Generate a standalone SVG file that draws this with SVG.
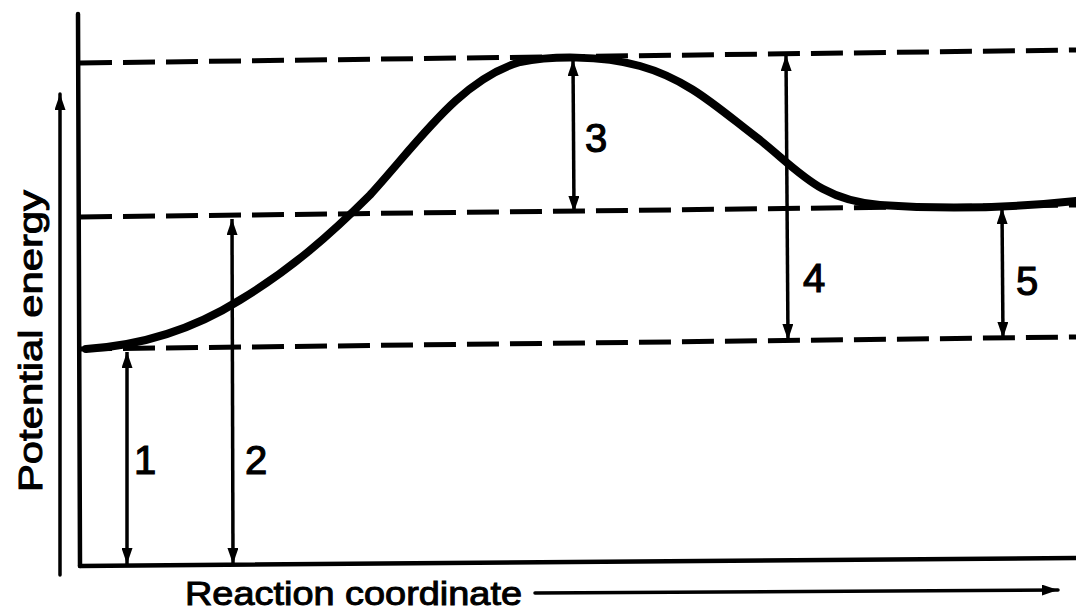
<svg xmlns="http://www.w3.org/2000/svg" width="1076" height="614" viewBox="0 0 1076 614">
<style>
.axis{stroke:#000;stroke-width:4.5;fill:none;stroke-linecap:round}
.dash{stroke:#000;stroke-width:5;fill:none;stroke-dasharray:32 11}
.curve{stroke:#000;stroke-width:8;fill:none;stroke-linecap:round}
.dim{stroke:#000;stroke-width:3.5;fill:none;marker-start:url(#ah);marker-end:url(#ah)}
.lbl{font-family:"Liberation Sans",Arial,sans-serif;font-size:40px;fill:#000;stroke:#000;stroke-width:1.2}
.ax{font-family:"Liberation Sans",Arial,sans-serif;font-size:34px;fill:#000;stroke:#000;stroke-width:1}
</style>
<defs>
<marker id="ah" viewBox="0 0 16 11" refX="16" refY="5.5" markerWidth="16" markerHeight="11" markerUnits="userSpaceOnUse" orient="auto-start-reverse">
<path d="M0,0 L16,5.5 L0,11 Z" fill="#000"/>
</marker>
</defs>
<rect width="1076" height="614" fill="#fff"/>
<g id="axes">
<line class="axis" x1="78" y1="14" x2="80" y2="566"/>
<line class="axis" x1="80" y1="566" x2="1076" y2="558"/>
<line class="axis" x1="60" y1="575" x2="60" y2="94" style="stroke-width:3.5;marker-end:url(#ah)"/>
<text class="ax" transform="translate(42,492) rotate(-90)" textLength="302" lengthAdjust="spacingAndGlyphs">Potential energy</text>
<text class="ax" x="185" y="605" textLength="337" lengthAdjust="spacingAndGlyphs">Reaction coordinate</text>
<line class="axis" x1="535" y1="593" x2="1058" y2="590" style="stroke-width:3.5;marker-end:url(#ah)"/>
</g>
<g id="levels">
<line class="dash" x1="80" y1="63" x2="1076" y2="50"/>
<line class="dash" x1="80" y1="217" x2="1076" y2="205"/>
<line class="dash" x1="80" y1="349" x2="1076" y2="337"/>
</g>
<g id="curve">
<path class="curve" d="M86,349 C150,345 200,325 240,300 C290,270 330,235 370,195 C420,140 460,80 520,62 C550,56 600,55 640,66 C690,80 720,110 760,140 C800,172 820,200 880,205 C950,210 1010,208 1076,201"/>
</g>
<g id="connectors">
<line class="dim" x1="127" y1="352" x2="127" y2="564"/>
<line class="dim" x1="232" y1="219" x2="233" y2="564"/>
<line class="dim" x1="573" y1="60" x2="574" y2="212"/>
<line class="dim" x1="786" y1="55" x2="788" y2="340"/>
<line class="dim" x1="1002" y1="208" x2="1003" y2="338"/>
</g>
<g id="labels">
<text class="lbl" x="134" y="474">1</text>
<text class="lbl" x="245" y="474">2</text>
<text class="lbl" x="585" y="152">3</text>
<text class="lbl" x="803" y="292">4</text>
<text class="lbl" x="1016" y="295">5</text>
</g>
</svg>
